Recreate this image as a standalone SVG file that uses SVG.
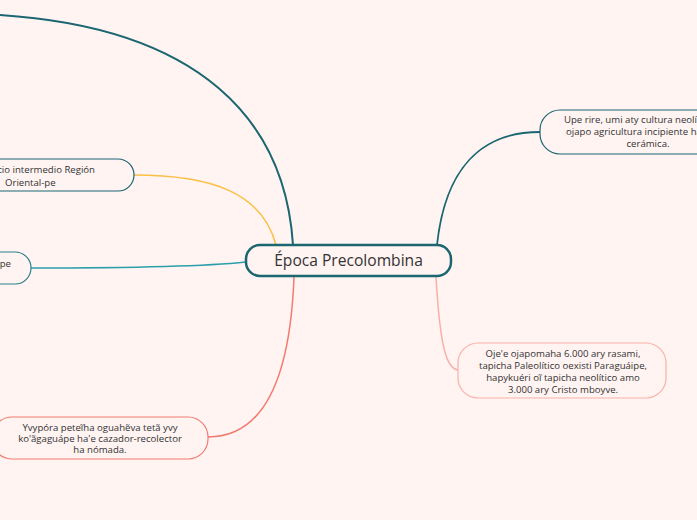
<svg xmlns="http://www.w3.org/2000/svg" width="697" height="520" viewBox="0 0 697 520">
<style>
.bg{fill:#fff4f2}
.node{fill:#fff4f2}
.t{font-family:"Open Sans","Liberation Sans",sans-serif;font-size:9.6px;fill:#333}
.c{fill:none;stroke-linecap:round}
</style>
<rect class="bg" x="0" y="0" width="697" height="520"/>
<g id="connectors">
<path class="c" d="M293,245 C285,120 200,28 0,15" stroke="#1b6670" stroke-width="2"/>
<path class="c" d="M276,245 C262,192 210,175 134,175" stroke="#fbbf45" stroke-width="1.5"/>
<path class="c" d="M246,262 C200,267 110,268 31,268" stroke="#2a9faa" stroke-width="1.5"/>
<path class="c" d="M437,245 C445,170 480,132 540,132" stroke="#1b6670" stroke-width="1.8"/>
<path class="c" d="M436,277 C440,345 446,370 459,370" stroke="#f9b0a8" stroke-width="1.5"/>
<path class="c" d="M294,277 C290,382 262,437 208,437" stroke="#f47a70" stroke-width="1.5"/>
</g>
<g id="center">
<rect class="node" x="246" y="245" width="205" height="31" rx="14" stroke="#1b6670" stroke-width="2.5"/>
<text x="348.5" y="266" text-anchor="middle" style="font-family:'Open Sans','Liberation Sans',sans-serif;font-size:15.6px;fill:#333">Época Precolombina</text>
</g>
<g id="node-oriental">
<rect class="node" x="-60" y="159" width="194" height="32" rx="16" stroke="#1b6670" stroke-width="1.2"/>
<text class="t" x="95" y="173" text-anchor="end">cio intermedio Región</text>
<text class="t" x="5" y="186">Oriental-pe</text>
</g>
<g id="node-pe">
<rect class="node" x="-60" y="252" width="91" height="32" rx="16" stroke="#2a7f8a" stroke-width="1.2"/>
<text class="t" x="11" y="267" text-anchor="end">pe</text>
</g>
<g id="node-neolitica">
<rect class="node" x="540" y="110" width="200" height="44" rx="20" stroke="#1b6670" stroke-width="1.2"/>
<text class="t" x="564" y="123">Upe rire, umi aty cultura neolítica</text>
<text class="t" x="566" y="135">ojapo agricultura incipiente ha</text>
<text class="t" x="648" y="147" text-anchor="middle">cerámica.</text>
</g>
<g id="node-paleolitico">
<rect class="node" x="458" y="343" width="208" height="55" rx="20" stroke="#f9b0a8" stroke-width="1.2"/>
<text class="t" x="563" y="357" text-anchor="middle">Oje'e ojapomaha 6.000 ary rasami,</text>
<text class="t" x="563" y="369" text-anchor="middle">tapicha Paleolítico oexisti Paraguáipe,</text>
<text class="t" x="563" y="381" text-anchor="middle">hapykuéri oĩ tapicha neolítico amo</text>
<text class="t" x="563" y="393" text-anchor="middle">3.000 ary Cristo mboyve.</text>
</g>
<g id="node-yvypora">
<rect class="node" x="-8" y="417" width="216" height="42" rx="20" stroke="#f47a70" stroke-width="1.2"/>
<text class="t" x="100" y="431" text-anchor="middle">Yvypóra peteĩha oguahẽva tetã yvy</text>
<text class="t" x="100" y="442" text-anchor="middle">ko'ãgaguápe ha'e cazador-recolector</text>
<text class="t" x="100" y="453" text-anchor="middle">ha nómada.</text>
</g>
</svg>
